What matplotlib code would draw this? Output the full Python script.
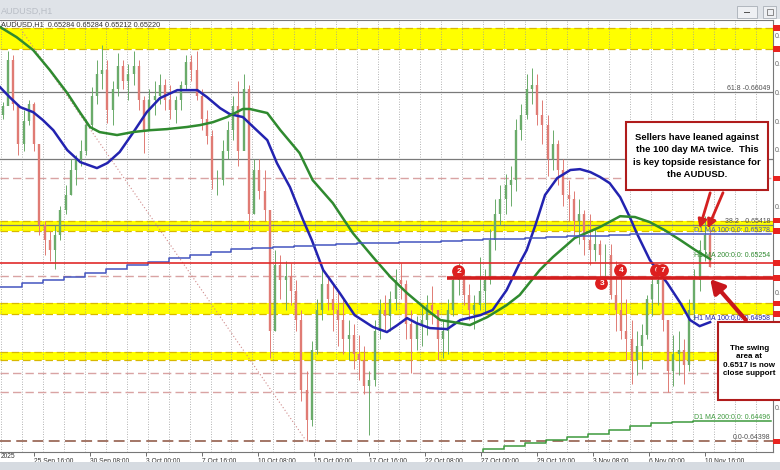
import matplotlib
matplotlib.use("Agg")
import matplotlib.pyplot as plt
from matplotlib.patches import Rectangle

# AUDUSD H1, prices. one column = 6 hourly bars
bars_per_col = 6
open_first = 0.6594
col_high = [0.6600, 0.6624, 0.6622, 0.6596, 0.6596, 0.6601, 0.6600, 0.6577, 0.6544, 0.6539,
            0.6542, 0.6551, 0.6561, 0.6573, 0.6575, 0.6582, 0.6592, 0.6607, 0.6620, 0.6627,
            0.6620, 0.6610, 0.6623, 0.6620, 0.6618, 0.6624, 0.6620, 0.6603, 0.6606, 0.6610,
            0.6613, 0.6611, 0.6608, 0.6603, 0.6610, 0.6622, 0.6622, 0.6624, 0.6606, 0.6596,
            0.6587, 0.6568, 0.6582, 0.6591, 0.6603, 0.6610, 0.6613, 0.6608, 0.6573, 0.6573,
            0.6568, 0.6549, 0.6530, 0.6528, 0.6525, 0.6524, 0.6516, 0.6502, 0.6473, 0.6487,
            0.6507, 0.6521, 0.6518, 0.6514, 0.6511, 0.6507, 0.6497, 0.6495, 0.6490, 0.6485,
            0.6473, 0.6497, 0.6507, 0.6509, 0.6511, 0.6521, 0.6524, 0.6516, 0.6502, 0.6499,
            0.6504, 0.6509, 0.6513, 0.6502, 0.6497, 0.6507, 0.6521, 0.6524, 0.6521, 0.6514,
            0.6509, 0.6527, 0.6521, 0.6540, 0.6554, 0.6561, 0.6566, 0.6570, 0.6592, 0.6599,
            0.6613, 0.6616, 0.6613, 0.6601, 0.6594, 0.6587, 0.6582, 0.6573, 0.6563, 0.6558,
            0.6554, 0.6549, 0.6547, 0.6540, 0.6535, 0.6533, 0.6533, 0.6525, 0.6521, 0.6507,
            0.6497, 0.6492, 0.6495, 0.6509, 0.6518, 0.6521, 0.6518, 0.6497, 0.6490, 0.6492,
            0.6488, 0.6507, 0.6521, 0.6535, 0.6546, 0.6540]
col_low = [0.6592, 0.6606, 0.6596, 0.6575, 0.6577, 0.6589, 0.6577, 0.6537, 0.6528, 0.6525,
           0.6521, 0.6535, 0.6547, 0.6556, 0.6561, 0.6570, 0.6575, 0.6587, 0.6599, 0.6606,
           0.6590, 0.6589, 0.6603, 0.6606, 0.6601, 0.6608, 0.6596, 0.6576, 0.6587, 0.6594,
           0.6599, 0.6596, 0.6592, 0.6590, 0.6596, 0.6606, 0.6610, 0.6601, 0.6587, 0.6580,
           0.6559, 0.6556, 0.6561, 0.6573, 0.6582, 0.6570, 0.6587, 0.6540, 0.6547, 0.6554,
           0.6544, 0.6479, 0.6492, 0.6507, 0.6502, 0.6504, 0.6492, 0.6459, 0.64398, 0.6447,
           0.6481, 0.6497, 0.6502, 0.6492, 0.6485, 0.6481, 0.6478, 0.6474, 0.6469, 0.6462,
           0.6443, 0.6466, 0.6488, 0.6492, 0.6492, 0.6502, 0.6507, 0.6488, 0.6472, 0.6483,
           0.6485, 0.6490, 0.6495, 0.6478, 0.6479, 0.6481, 0.6499, 0.6509, 0.6504, 0.6497,
           0.6493, 0.6502, 0.6501, 0.6514, 0.6530, 0.6542, 0.6547, 0.6551, 0.6558, 0.6582,
           0.6592, 0.6599, 0.6589, 0.6580, 0.6565, 0.6568, 0.6561, 0.6551, 0.6544, 0.6537,
           0.6533, 0.6528, 0.6523, 0.6525, 0.6517, 0.6518, 0.6507, 0.6492, 0.6488, 0.6478,
           0.6467, 0.6471, 0.6474, 0.6488, 0.6499, 0.6504, 0.6492, 0.6463, 0.6466, 0.6471,
           0.6467, 0.6473, 0.6497, 0.6511, 0.6525, 0.6522]
col_close = [0.6598, 0.6620, 0.6599, 0.6580, 0.6591, 0.6599, 0.6580, 0.6542, 0.6535, 0.6530,
             0.6537, 0.6549, 0.6556, 0.6568, 0.6573, 0.6577, 0.6589, 0.6603, 0.6613, 0.6615,
             0.6596, 0.6606, 0.6617, 0.6610, 0.6613, 0.6617, 0.6601, 0.6587, 0.6601, 0.6603,
             0.6608, 0.6601, 0.6596, 0.6601, 0.6608, 0.6619, 0.6615, 0.6603, 0.6592, 0.6584,
             0.6563, 0.6563, 0.6577, 0.6587, 0.6598, 0.6577, 0.6606, 0.6547, 0.6568, 0.6558,
             0.6549, 0.6492, 0.6523, 0.6516, 0.6518, 0.6511, 0.6497, 0.6464, 0.6450, 0.6483,
             0.6502, 0.6514, 0.6507, 0.6502, 0.6497, 0.6488, 0.6490, 0.6481, 0.6478, 0.6466,
             0.6469, 0.6492, 0.6502, 0.6499, 0.6507, 0.6516, 0.6514, 0.6495, 0.6488, 0.6495,
             0.6497, 0.6504, 0.6502, 0.6488, 0.6492, 0.6502, 0.6516, 0.6518, 0.6509, 0.6502,
             0.6504, 0.6511, 0.6516, 0.6535, 0.6547, 0.6554, 0.6561, 0.6563, 0.6587, 0.6594,
             0.6606, 0.6608, 0.6594, 0.6589, 0.6573, 0.6580, 0.6568, 0.6556, 0.6554, 0.6544,
             0.6547, 0.6535, 0.6530, 0.6533, 0.6528, 0.6528, 0.6509, 0.6502, 0.6492, 0.6488,
             0.6478, 0.6485, 0.6490, 0.6507, 0.6514, 0.6516, 0.6497, 0.6473, 0.6481, 0.6483,
             0.6476, 0.6502, 0.6516, 0.6530, 0.6537, 0.6522]

# hourly moving averages (bar index, price)
h1_ma100_bar = [0, 11, 23, 38, 49, 61, 77, 92, 111, 123, 137, 152, 168, 183, 203, 226, 237, 252,
                263, 278, 290, 306, 317, 332, 347, 357, 370, 389, 406, 427, 443, 455, 466, 477,
                492, 512, 527, 550, 564, 580, 595, 603, 613, 624, 638, 653, 664, 676, 687, 698,
                710, 721, 729, 744, 764, 779, 790, 801, 813]
h1_ma100 = [0.66070, 0.66023, 0.65976, 0.65952, 0.65915, 0.65867, 0.65773, 0.65716, 0.65688,
            0.65712, 0.65764, 0.65853, 0.65952, 0.66018, 0.66056, 0.66056, 0.66023, 0.65971,
            0.65943, 0.65929, 0.65882, 0.65820, 0.65712, 0.65598, 0.65443, 0.65348, 0.65207,
            0.65098, 0.64994, 0.64938, 0.64914, 0.64947, 0.64980, 0.64956, 0.64933, 0.64928,
            0.64971, 0.64994, 0.65018, 0.65112, 0.65240, 0.65301, 0.65419, 0.65561, 0.65641,
            0.65679, 0.65683, 0.65669, 0.65646, 0.65617, 0.65551, 0.65457, 0.65381, 0.65254,
            0.65145, 0.65051, 0.64971, 0.64942, 0.64961]
h1_ma200_bar = [0, 19, 38, 57, 77, 92, 103, 114, 134, 152, 172, 191, 214, 229, 244, 260, 278,
                286, 306, 321, 343, 358, 381, 404, 427, 447, 466, 489, 504, 519, 538, 558, 580,
                595, 618, 633, 658, 687, 710, 727, 744, 761, 779, 796, 813]
h1_ma200 = [0.66354, 0.66306, 0.66245, 0.66151, 0.66042, 0.65948, 0.65882, 0.65858, 0.65844,
            0.65858, 0.65867, 0.65872, 0.65882, 0.65891, 0.65905, 0.65929, 0.65967, 0.65967,
            0.65948, 0.65867, 0.65759, 0.65631, 0.65523, 0.65381, 0.65268, 0.65174, 0.65098,
            0.65018, 0.64971, 0.64961, 0.64947, 0.64985, 0.65041, 0.65089, 0.65207, 0.65268,
            0.65358, 0.65410, 0.65461, 0.65457, 0.65433, 0.65395, 0.65348, 0.65301, 0.65259]

# daily moving averages, one value per day (day k starts at bar 1 + 24k)
d1_ma100 = [0.65126, 0.65145, 0.65159, 0.65174, 0.65192, 0.65211, 0.65230, 0.65244, 0.65263,
            0.65277, 0.65292, 0.65306, 0.65311, 0.65315, 0.65320, 0.65325, 0.65329, 0.65334,
            0.65334, 0.65339, 0.65339, 0.65344, 0.65348, 0.65353, 0.65353, 0.65358, 0.65362,
            0.65367, 0.65367, 0.65372, 0.65377, 0.65377, 0.65378, 0.65378]
d1_ma200_first_day = 22
d1_ma200 = [0.64330, 0.64362, 0.64376, 0.64390, 0.64404, 0.64418, 0.64433, 0.64451, 0.64470,
            0.64484, 0.64491, 0.64496]

# levels drawn on the chart
fib_levels = [0.66049, 0.65733, 0.65418]
fib_zero = 0.64398
fib_high = 0.67068
yellow_zones = [(0.6625, 0.6635), (0.6539, 0.6544), (0.6500, 0.6505), (0.6478, 0.6482)]
dashed_levels = [0.6564, 0.6518, 0.6472, 0.6463]
resistance = 0.6524
swing_area = 0.6517
tag_levels = [0.6635, 0.6625, 0.6564, 0.6544, 0.6539, 0.6524, 0.6517, 0.6505, 0.6500, 0.64398]
# right price scale, only the leading "0." is inside the screenshot
right_axis_prices = [0.66310, 0.66175, 0.66040, 0.65905, 0.65770, 0.65500, 0.65095, 0.64555]

touch_labels = ['2', '3', '4', '6', '7']
touch_bars = [524, 688, 710, 751, 758]
touch_prices = [0.65202, 0.65145, 0.65207, 0.65207, 0.65207]

xtick_labels = ['25 Sep 16:00', '30 Sep 08:00', '3 Oct 00:00', '7 Oct 16:00', '10 Oct 08:00',
                '15 Oct 00:00', '17 Oct 16:00', '22 Oct 08:00', '27 Oct 00:00', '29 Oct 16:00',
                '3 Nov 08:00', '6 Nov 00:00', '10 Nov 16:00']

plt.rcParams['font.family'] = ['Liberation Sans', 'DejaVu Sans']

W, H = 780, 470
fig = plt.figure(figsize=(W / 100, H / 100), dpi=100)
ax = fig.add_axes([0, 18 / H, 773 / W, 432 / H])
ax.set_xlim(0, 885)
ax.set_ylim(0.64348, 0.66387)

# window chrome
fig.patches.append(Rectangle((0, 1 - 19 / H), 1, 19 / H, transform=fig.transFigure,
                             fc='#dfe3e8', ec='none', zorder=0))
fig.patches.append(Rectangle((0, 0), 1, 8 / H, transform=fig.transFigure,
                             fc='#d6dbe1', ec='none', zorder=0))
fig.text(1 / W, 1 - 11 / H, 'AUDUSD,H1', fontsize=6.5, color='#b9bec6', va='center')
fig.patches.append(Rectangle((737 / W, 1 - 18 / H), 20 / W, 12 / H, transform=fig.transFigure,
                             fc='#eef0f3', ec='#a9afb7', lw=0.6))
fig.patches.append(Rectangle((744 / W, 1 - 13 / H), 6 / W, 1.5 / H, transform=fig.transFigure,
                             fc='#555', ec='none'))
fig.patches.append(Rectangle((763 / W, 1 - 18 / H), 13 / W, 12 / H, transform=fig.transFigure,
                             fc='#eef0f3', ec='#a9afb7', lw=0.6))
fig.patches.append(Rectangle((766.5 / W, 1 - 15 / H), 6 / W, 6 / H, transform=fig.transFigure,
                             fc='none', ec='#777', lw=0.6))

# grid
for b in range(1, 885, 24):
    ax.axvline(b, color='#9a9a9a', lw=0.6, ls=(0, (1, 2)), zorder=1)

# zones and levels
for lo, hi in yellow_zones:
    ax.axhspan(lo, hi, color='#ffff00', lw=0, zorder=0.5)
    for lv in (lo, hi):
        ax.axhline(lv, color='#d8b800', lw=0.9, ls=(0, (6, 3)), zorder=0.6)
for lv in fib_levels:
    ax.axhline(lv, color='#7a7a7a', lw=0.9, zorder=1.2)
for lv in dashed_levels:
    ax.axhline(lv, color='#d9a3a3', lw=1.0, ls=(0, (6, 3)), zorder=1.2)
ax.axhline(fib_zero, color='#9c6b5a', lw=1.3, ls=(0, (6, 3)), zorder=1.2)
ax.plot([-98, 351], [fib_high, fib_zero], color='#d08a8a', lw=0.8, ls=(0, (1, 2)), zorder=1.3)

# candles
xs = [bars_per_col * i + 3 for i in range(len(col_close))]
opens = [open_first] + col_close[:-1]
colors = ['#6aab6a' if c >= o else '#e07b74' for o, c in zip(opens, col_close)]
ax.vlines(xs, col_low, col_high, colors=colors, lw=0.7, zorder=3)
ax.vlines(xs, [min(o, c) for o, c in zip(opens, col_close)],
          [max(o, c) for o, c in zip(opens, col_close)], colors=colors, lw=1.7, zorder=3)

# moving averages
ax.plot(h1_ma100_bar, h1_ma100, color='#2323b0', lw=1.8, zorder=4)
ax.plot(h1_ma200_bar, h1_ma200, color='#2f8a2f', lw=1.8, zorder=4)
d100_x = [1 + 24 * k for k in range(len(d1_ma100))]
d100_x[0] = 0
ax.step(d100_x + [883], d1_ma100 + [d1_ma100[-1]], where='post', color='#4455c0', lw=1.1, zorder=4)
d200_x = [1 + 24 * (d1_ma200_first_day + k) for k in range(len(d1_ma200))]
ax.step(d200_x + [883], d1_ma200 + [d1_ma200[-1]], where='post', color='#3d9a3d', lw=1.1, zorder=4)

# red lines
ax.axhline(resistance, color='#e02a2a', lw=1.2, zorder=5)
ax.hlines(swing_area, 512, 885, color='#d41e1e', lw=2.6, zorder=5)

# level labels
lab = dict(ha='right', va='bottom', fontsize=5, zorder=6)
ax.text(882, fib_levels[0], '61.8 -0.66049', color='#505050', **lab)
ax.text(882, fib_levels[2] + 0.00003, '38.2 - 0.65418', color='#505050', **lab)
ax.text(882, d1_ma100[-1], 'D1 MA 100:0.0: 0.65378', color='#4455c0', **lab)
ax.text(882, h1_ma200[-1], 'H1 MA 200:0.0: 0.65254', color='#2f8a2f', **lab)
ax.text(882, h1_ma100[-1], 'H1 MA 100:0.0: 0.64958', color='#2323b0', **lab)
ax.text(882, d1_ma200[-1], 'D1 MA 200:0.0: 0.64496', color='#3d9a3d', **lab)
ax.text(882, fib_zero, '0.0-0.64398', color='#505050', **lab)

# touch markers, later ones drawn over earlier ones
for k, (b, p, t) in enumerate(zip(touch_bars, touch_prices, touch_labels)):
    ax.scatter([b], [p], s=85, color='#dd1f1f', zorder=8 + 0.1 * k, lw=0)
    ax.text(b + 1, p, t, color='white', fontsize=6, weight='bold', ha='center', va='center',
            zorder=8.05 + 0.1 * k)

# annotation boxes
ax.add_patch(Rectangle((717, 0.65584), 162, 0.00321, fc='white', ec='#b01c1c', lw=1.5, zorder=7))
ax.text(798, 0.65745, 'Sellers have leaned against\nthe 100 day MA twice.  This\n'
        'is key topside resistance for\nthe AUDUSD.', ha='center', va='center',
        fontsize=6.8, weight='bold', linespacing=1.45, zorder=8)
ax.annotate('', xy=(800, 0.65391), xytext=(814, 0.65584), zorder=7,
            arrowprops=dict(arrowstyle='-|>,head_length=0.5,head_width=0.25', color='#d42020', lw=2))
ax.annotate('', xy=(809, 0.65391), xytext=(829, 0.65584), zorder=7,
            arrowprops=dict(arrowstyle='-|>,head_length=0.5,head_width=0.25', color='#d42020', lw=2))

ax.add_patch(Rectangle((822, 0.64593), 100, 0.00368, fc='white', ec='#b01c1c', lw=1.5,
                       zorder=7, clip_on=False))
ax.text(858, 0.64777, 'The swing\narea at\n0.6517 is now\nclose support', ha='center',
        va='center', fontsize=5.8, weight='bold', linespacing=1.3, zorder=8, clip_on=False)
ax.annotate('', xy=(811, 0.65174), xytext=(856, 0.64961), zorder=7,
            arrowprops=dict(arrowstyle='-|>,head_length=0.8,head_width=0.45', color='#c8161c', lw=3))

# right price tags and axis labels
for lv in tag_levels:
    ax.add_patch(Rectangle((885.5, lv - 0.00013), 10, 0.00026, fc='#e8231f', ec='none',
                           clip_on=False, zorder=6))
for p in right_axis_prices:
    ax.text(887, p, '0.', fontsize=5, color='#666', va='center', ha='left', clip_on=False)

# header
ax.text(1, 0.66365, 'AUDUSD,H1  0.65284 0.65284 0.65212 0.65220', fontsize=5.3, color='#333',
        va='center', zorder=6)

# axes frame and ticks
for s in ('top', 'bottom', 'right'):
    ax.spines[s].set_color('#777')
    ax.spines[s].set_linewidth(0.8)
ax.spines['left'].set_visible(False)
ax.set_yticks([])
ax.set_xticks([39 + 64 * k for k in range(len(xtick_labels))])
ax.set_xticklabels(xtick_labels, ha='left', fontsize=4.8, color='#333')
ax.tick_params(axis='x', length=3, width=0.6, color='#555', pad=1)
fig.text(1 / W, 1 - 457 / H, '2025', fontsize=4.8, color='#333', va='center')

fig.savefig('out.png', dpi=100)
